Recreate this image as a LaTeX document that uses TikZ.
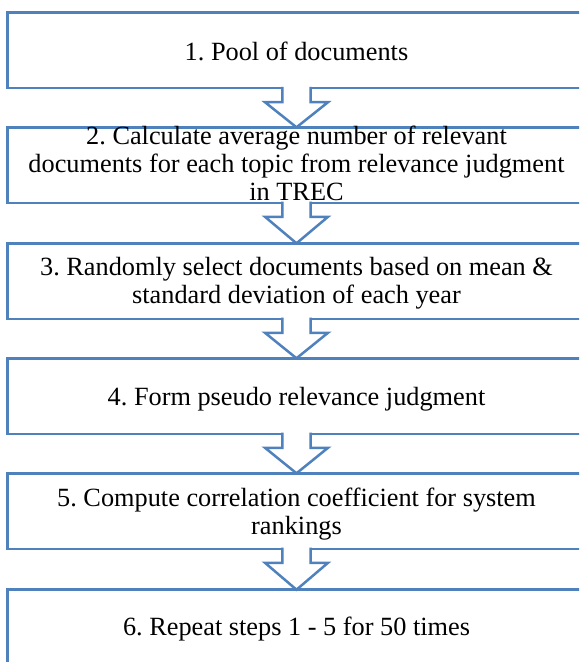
\documentclass[tikz,border=0pt]{standalone}
\usepackage{fontspec}
\setmainfont{Liberation Serif}
\usetikzlibrary{calc}
\definecolor{boxblue}{RGB}{79,129,189}
\frenchspacing
\newcommand\flowarrow[2]{%
  \fill[white] ($(#1.south -| axis)+(-14.2,-1.4)$) -- ($(#1.south -| axis)+(-14.2,14)$)
    -- ($(#1.south -| axis)+(-31.5,14)$) -- (#2.north -| axis)
    -- ($(#1.south -| axis)+(31.5,14)$) -- ($(#1.south -| axis)+(14.2,14)$)
    -- ($(#1.south -| axis)+(14.2,-1.4)$) -- cycle;
  \draw[arrowline] ($(#1.south -| axis)+(-14.2,-1.3)$) -- ($(#1.south -| axis)+(-14.2,14)$)
    -- ($(#1.south -| axis)+(-31.5,14)$) -- (#2.north -| axis)
    -- ($(#1.south -| axis)+(31.5,14)$) -- ($(#1.south -| axis)+(14.2,14)$)
    -- ($(#1.south -| axis)+(14.2,-1.3)$);
}
\begin{document}
\begin{tikzpicture}[x=1pt,y=-1pt,
  box/.style={draw=boxblue, line width=2.5pt, rectangle, inner sep=0pt, outer sep=0pt,
    minimum width=578.7pt, minimum height=75.5pt, anchor=north west},
  lbl/.style={font=\fontsize{26.3}{28}\selectfont, inner sep=0pt, align=center, anchor=base},
  arrowline/.style={draw=boxblue, line width=2.5pt, line join=miter}]
\useasboundingbox (0,0) rectangle (579,662);
\clip (0,0) rectangle (579,662);
\coordinate (axis) at (296.5,0);
\node[box] (b1) at (7.3,12.7) {};
\node[box] (b2) at (7.3,127.3) {};
\node[box] (b3) at (7.3,243.3) {};
\node[box] (b4) at (7.3,358.3) {};
\node[box] (b5) at (7.3,473.3) {};
\node[box] (b6) at (7.3,589.7) {};
\flowarrow{b1}{b2}
\flowarrow{b2}{b3}
\flowarrow{b3}{b4}
\flowarrow{b4}{b5}
\flowarrow{b5}{b6}
\node[lbl] (t1) at (296.5,60) {1. Pool of documents};
\node[lbl] (t2) at (296.5,200.5) {2. Calculate average number of relevant\\documents for each topic from relevance judgment\\in TREC};
\node[lbl] (t3) at (296.5,303.8) {3. Randomly select documents based on mean \&\\standard deviation of each year};
\node[lbl] (t4) at (296.5,405) {4. Form pseudo relevance judgment};
\node[lbl] (t5) at (296.5,534.3) {5. Compute correlation coefficient for system\\rankings};
\node[lbl] (t6) at (296.5,635) {6. Repeat steps 1 - 5 for 50 times};
\end{tikzpicture}
\end{document}
